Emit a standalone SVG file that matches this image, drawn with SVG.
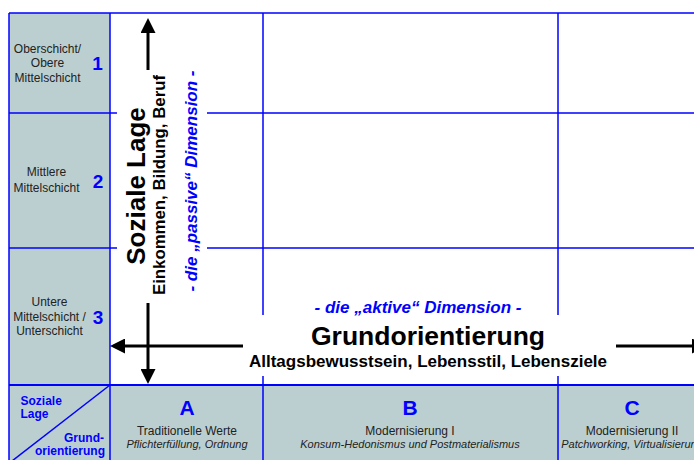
<svg xmlns="http://www.w3.org/2000/svg" width="694" height="460" viewBox="0 0 694 460">
  <style>
    .grid { stroke: #0000ff; stroke-width: 1.5; fill: none; }
    .band { fill: #bccfd0; }
    .lbl { font-family: "Liberation Sans", Arial, sans-serif; font-size: 12px; fill: #222; text-anchor: middle; }
    .num { font-family: "Liberation Sans", Arial, sans-serif; font-size: 19px; font-weight: bold; fill: #0000ff; text-anchor: middle; }
    .col { font-family: "Liberation Sans", Arial, sans-serif; font-size: 21px; font-weight: bold; fill: #0000ff; text-anchor: middle; }
    .sub { font-family: "Liberation Sans", Arial, sans-serif; font-size: 11px; font-style: italic; fill: #222; text-anchor: middle; }
    .corner { font-family: "Liberation Sans", Arial, sans-serif; font-size: 12px; font-weight: bold; fill: #0000ff; }
    .dim { font-family: "Liberation Sans", Arial, sans-serif; font-size: 17px; font-weight: bold; font-style: italic; fill: #0000ff; text-anchor: middle; }
    .title { font-family: "Liberation Sans", Arial, sans-serif; font-size: 26px; font-weight: bold; fill: #000; text-anchor: middle; }
    .subtitle { font-family: "Liberation Sans", Arial, sans-serif; font-size: 17px; font-weight: bold; fill: #000; text-anchor: middle; }
    .axis { stroke: #000; stroke-width: 3; fill: none; }
  </style>
  <defs>
    <marker id="head" markerUnits="userSpaceOnUse" viewBox="0 0 15 15" refX="0" refY="7.5" markerWidth="15" markerHeight="15" orient="auto-start-reverse">
      <path d="M0,0 L15,7.5 L0,15 z" fill="#000"/>
    </marker>
  </defs>

  <rect width="694" height="460" fill="#fff"/>

  <!-- shaded header column and footer row -->
  <g id="bands">
    <rect class="band" x="9" y="13" width="101" height="447"/>
    <rect class="band" x="110" y="385" width="600" height="75"/>
  </g>

  <!-- table rules -->
  <g id="grid">
    <line class="grid" x1="9" y1="13" x2="694" y2="13"/>
    <line class="grid" x1="9" y1="113" x2="694" y2="113"/>
    <line class="grid" x1="9" y1="248" x2="694" y2="248"/>
    <line class="grid" x1="9" y1="385" x2="694" y2="385" style="stroke-width:2"/>
    <line class="grid" x1="9" y1="13" x2="9" y2="460"/>
    <line class="grid" x1="110" y1="13" x2="110" y2="460"/>
    <line class="grid" x1="263" y1="13" x2="263" y2="460"/>
    <line class="grid" x1="558" y1="13" x2="558" y2="460"/>
    <line class="grid" x1="110" y1="385" x2="12" y2="461"/>
  </g>

  <!-- axes -->
  <g id="connectors">
    <line class="axis" x1="148" y1="33" x2="148" y2="369" marker-start="url(#head)" marker-end="url(#head)"/>
    <line class="axis" x1="125" y1="346" x2="692" y2="346" marker-start="url(#head)" marker-end="url(#head)"/>
  </g>

  <!-- vertical axis label -->
  <g id="axis-soziale-lage">
    <rect x="117" y="70" width="90" height="233" fill="#fff"/>
    <text class="title" transform="translate(145,186) rotate(-90)">Soziale Lage</text>
    <text class="subtitle" transform="translate(165,185) rotate(-90)" style="font-size:16px" textLength="220" lengthAdjust="spacingAndGlyphs">Einkommen, Bildung, Beruf</text>
    <text class="dim" transform="translate(197,181) rotate(-90)">- die „passive“ Dimension -</text>
  </g>

  <!-- horizontal axis label -->
  <g id="axis-grundorientierung">
    <rect x="243" y="315" width="373" height="61" fill="#fff"/>
    <text class="dim" x="418" y="313">- die „aktive“ Dimension -</text>
    <text class="title" x="428" y="345" style="font-size:26.5px">Grundorientierung</text>
    <text class="subtitle" x="428" y="367">Alltagsbewusstsein, Lebensstil, Lebensziele</text>
  </g>

  <!-- row headers -->
  <g id="row-1">
    <text class="lbl" x="47.5" y="53">Oberschicht/</text>
    <text class="lbl" x="47.5" y="67">Obere</text>
    <text class="lbl" x="47.5" y="82">Mittelschicht</text>
    <text class="num" x="97.5" y="70">1</text>
  </g>
  <g id="row-2">
    <text class="lbl" x="46.5" y="176">Mittlere</text>
    <text class="lbl" x="46.5" y="192">Mittelschicht</text>
    <text class="num" x="98" y="188">2</text>
  </g>
  <g id="row-3">
    <text class="lbl" x="49.5" y="306">Untere</text>
    <text class="lbl" x="49.5" y="321">Mittelschicht /</text>
    <text class="lbl" x="49.5" y="335">Unterschicht</text>
    <text class="num" x="98" y="324">3</text>
  </g>

  <!-- corner cell -->
  <g id="corner">
    <text class="corner" x="20.5" y="405">Soziale</text>
    <text class="corner" x="20.5" y="418">Lage</text>
    <text class="corner" x="104" y="442" text-anchor="end">Grund-</text>
    <text class="corner" x="105" y="455" text-anchor="end">orientierung</text>
  </g>

  <!-- column headers -->
  <g id="col-a">
    <text class="col" x="187" y="415">A</text>
    <text class="lbl" x="187" y="435">Traditionelle Werte</text>
    <text class="sub" x="187" y="448">Pflichterfüllung, Ordnung</text>
  </g>
  <g id="col-b">
    <text class="col" x="410" y="415">B</text>
    <text class="lbl" x="410" y="435">Modernisierung I</text>
    <text class="sub" x="410" y="448">Konsum-Hedonismus und Postmaterialismus</text>
  </g>
  <g id="col-c">
    <text class="col" x="632" y="415">C</text>
    <text class="lbl" x="632" y="435">Modernisierung II</text>
    <text class="sub" x="632" y="448">Patchworking, Virtualisierung</text>
  </g>
</svg>
